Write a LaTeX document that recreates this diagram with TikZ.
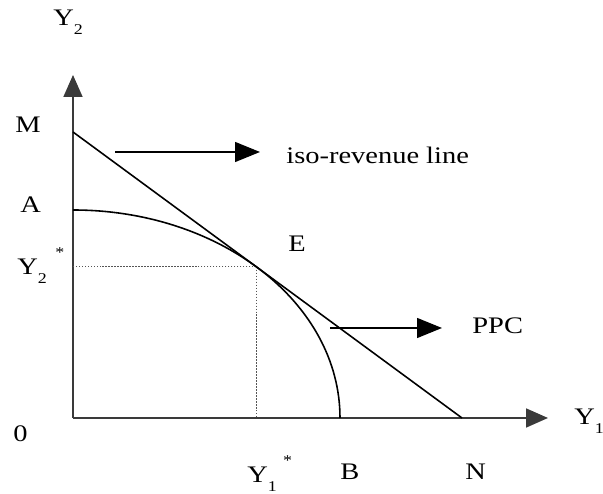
\documentclass[tikz,border=0pt]{standalone}
\usepackage{fontspec}
\setmainfont{Liberation Serif}
\usepackage{graphicx}
\usepackage{tikz}
\usetikzlibrary{arrows.meta}
\definecolor{aInk}{HTML}{3A3A3A}
\definecolor{dLine}{HTML}{555555}
\newcommand{\wtxt}[1]{\scalebox{1.2}[1]{#1}}
\newcommand{\dn}[1]{\raisebox{-5pt}{\fontsize{8.5}{9}\selectfont #1}}
\newcommand{\upst}[1]{\raisebox{10pt}{\fontsize{8.5}{9}\selectfont #1}}
\tikzset{
  lbl/.style={inner sep=0pt, anchor=base west, font=\fontsize{13.5}{15}\selectfont},
  axis/.style={draw=aInk, line width=1pt, -{Triangle[length=0.44cm,width=0.38cm]}},
  curve/.style={draw=black, line width=0.9pt},
  guide/.style={draw=dLine, line width=0.7pt, dash pattern=on 0.8pt off 0.9pt},
  pointer/.style={draw=black, line width=0.8pt, -{Triangle[length=0.5cm,width=0.4cm]}}
}

\begin{document}
\begin{tikzpicture}
  \useasboundingbox (-1.46,-1.52) rectangle (10.6,8.36);
  % points
  \coordinate (O) at (0,0);
  \coordinate (xend) at (9.5,0);
  \coordinate (yend) at (0,6.86);
  \coordinate (M) at (0,5.72);
  \coordinate (N) at (7.78,0);
  \coordinate (A) at (0,4.16);
  \coordinate (B) at (5.34,0);
  \coordinate (E) at (3.665,3.026);
  \coordinate (iso1) at (0.84,5.32);
  \coordinate (iso2) at (3.74,5.32);
  \coordinate (ppc1) at (5.14,1.8);
  \coordinate (ppc2) at (7.38,1.8);
  % labels
  \node[lbl] (lY2) at (-0.4,7.84) {\wtxt{Y\dn{2}}};
  \node[lbl] (lY1) at (10.02,-0.14) {\wtxt{Y\dn{1}}};
  \node[lbl] (lM) at (-1.16,5.7) {\wtxt{M}};
  \node[lbl] (lA) at (-1.06,4.1) {\wtxt{A}};
  \node[lbl] (lY2s) at (-1.12,2.86) {\wtxt{Y\dn{2}\hspace{4pt}\upst{*}}};
  \node[lbl] (lO) at (-1.2,-0.48) {\wtxt{0}};
  \node[lbl] (lY1s) at (3.48,-1.3) {\wtxt{Y\dn{1}\hspace{3pt}\upst{*}}};
  \node[lbl] (lB) at (5.34,-1.24) {\wtxt{B}};
  \node[lbl] (lN) at (7.84,-1.24) {\wtxt{N}};
  \node[lbl] (lE) at (4.3,3.32) {\wtxt{E}};
  \node[lbl] (liso) at (4.26,5.08) {\wtxt{iso-revenue line}};
  \node[lbl] (lppc) at (7.98,1.68) {\wtxt{PPC}};
  % axes
  \draw[axis] (O) -- (yend);
  \draw[axis] (O) -- (xend);
  % dotted guides
  \draw[guide] (E) -- (E -| O);
  \draw[guide] (E) -- (E |- O);
  % iso-revenue line and PPC
  \draw[curve] (M) -- (N);
  \draw[curve] (A) arc[start angle=90, end angle=0, x radius=5.34, y radius=4.16];
  % pointers
  \draw[pointer] (iso1) -- (iso2);
  \draw[pointer] (ppc1) -- (ppc2);
\end{tikzpicture}
\end{document}
